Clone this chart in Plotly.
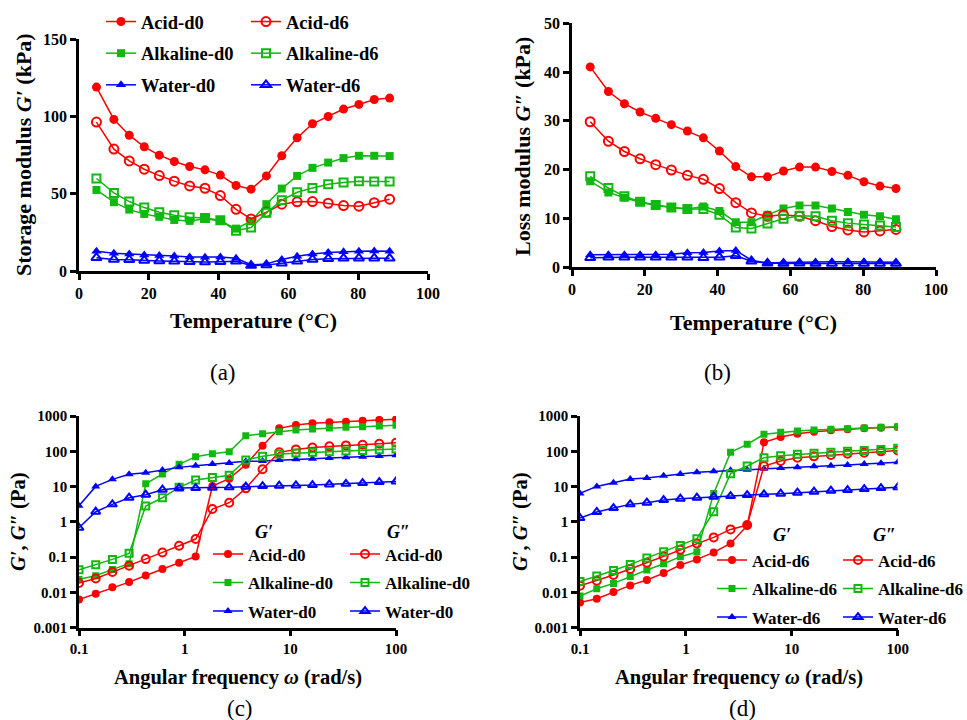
import plotly.graph_objects as go

W, H = 967, 720

# ---------------- data ----------------
temp = [5, 10, 14.4, 18.7, 23, 27.3, 31.7, 36.1, 40.5, 45, 49.3, 53.7, 58.1, 62.5, 66.9, 71.4, 75.8, 80.2, 84.6, 89]

acid_d0_G = [118.9, 98, 87.8, 80.3, 74.9, 70.8, 67.6, 65.4, 62, 55.3, 52.9, 61.5, 74.5, 86.1, 95.2, 99.9, 104.7, 107.7, 110.9, 111.8]
acid_d6_G = [96.3, 78.8, 71.2, 65.8, 61.7, 58.1, 55, 53.5, 48.8, 39.9, 33.7, 38, 43.2, 44.7, 44.9, 43.8, 42.3, 41.9, 44.2, 46.4]
alk_d0_G = [52.4, 44.5, 39.7, 36.9, 35, 33, 32.4, 33.7, 32.4, 27.4, 32.2, 43.2, 53.3, 61.5, 66.7, 70.1, 73, 74.5, 74.5, 74.3]
alk_d6_G = [59.8, 50.5, 44.9, 41, 38, 36, 34.8, 34.3, 32.8, 26.1, 28.1, 37.6, 45.8, 50.9, 53.7, 56.1, 57.2, 58.1, 57.8, 57.8]
water_d0_G = [12.7, 11.5, 11, 10.4, 10, 9.7, 9.1, 8.9, 9.1, 8.2, 4, 4.5, 7.5, 9.5, 11, 12, 12.5, 12.7, 13, 12.8]
water_d6_G = [8.6, 7.5, 7.3, 6.8, 6.5, 6.3, 6, 5.8, 6, 6.3, 3.5, 3.8, 5, 6.3, 7.5, 8, 8.2, 8.3, 8.3, 8.2]

acid_d0_L = [41.05, 36, 33.5, 31.8, 30.5, 29.2, 27.9, 26.5, 23.8, 20.6, 18.5, 18.5, 19.7, 20.5, 20.5, 19.6, 18.8, 17.5, 16.6, 16.1]
acid_d6_L = [29.8, 25.8, 23.7, 22.2, 21, 19.9, 18.8, 18, 16.1, 13.2, 11.1, 10.4, 10.7, 10.4, 9.5, 8.3, 7.6, 7.2, 7.4, 7.7]
alk_d0_L = [17.6, 15.3, 14.2, 13.3, 12.6, 12.2, 11.9, 12.4, 11.5, 9.2, 9.2, 10.7, 12, 12.6, 12.6, 12, 11.3, 10.7, 10.4, 9.8]
alk_d6_L = [18.6, 16.2, 14.5, 13.4, 12.7, 12.2, 11.9, 11.9, 10.7, 8.1, 7.9, 8.9, 9.9, 10.5, 10.4, 9.5, 9, 8.7, 8.5, 8.2]
water_d0_L = [2.5, 2.5, 2.5, 2.5, 2.5, 2.6, 2.9, 3, 3.3, 3.4, 1.4, 0.8, 0.9, 1, 1, 1.1, 1.1, 1.1, 1.1, 1]
water_d6_L = [1.9, 2, 2, 2, 2, 2, 2, 1.9, 2, 2.3, 1.2, 0.75, 0.7, 0.75, 0.7, 0.7, 0.7, 0.7, 0.7, 0.7]

freq = [0.1, 0.144, 0.207, 0.298, 0.428, 0.616, 0.886, 1.27, 1.83, 2.64, 3.79, 5.46, 7.85, 11.3, 16.2, 23.4, 33.6, 48.3, 69.5, 100]

acid_d0_Gp = [0.0063, 0.0092, 0.0139, 0.0196, 0.0303, 0.0459, 0.0694, 0.105, 10.4, 16.7, 41.7, 144, 447, 556, 619, 661, 690, 738, 771, 804]
acid_d0_Gpp = [0.0184, 0.0249, 0.0377, 0.057, 0.088, 0.136, 0.21, 0.325, 2.31, 3.49, 8.9, 30.8, 93.3, 113, 127, 138, 147, 154, 164, 175]
alk_d0_Gp = [0.0234, 0.0297, 0.0449, 0.065, 12, 22.6, 42.6, 70.4, 85.5, 97.5, 277, 315, 359, 401, 428, 457, 477, 499, 520, 543]
alk_d0_Gpp = [0.044, 0.061, 0.0863, 0.128, 2.81, 4.83, 9.49, 15.3, 18.2, 20.8, 56.5, 71.8, 83.6, 89.3, 93.3, 97.5, 102, 106, 111, 116]
water_d0_Gp = [2.86, 10.1, 16, 22.2, 24.7, 29.4, 35, 39, 43.5, 46.5, 51.8, 53, 56.5, 59, 61.7, 64.4, 67.3, 70.3, 73.4, 76.7]
water_d0_Gpp = [0.68, 1.94, 3.13, 4.83, 5.88, 8.14, 9.08, 9.08, 9.27, 9.49, 9.9, 10.3, 10.6, 10.8, 11, 11.5, 12, 12.6, 13.4, 14]

acid_d6_Gp = [0.0052, 0.0066, 0.0102, 0.0158, 0.0224, 0.0353, 0.0596, 0.0863, 0.136, 0.245, 0.776, 179, 254, 316, 359, 392, 419, 447, 467, 487]
acid_d6_Gpp = [0.0155, 0.0214, 0.031, 0.0459, 0.0694, 0.105, 0.162, 0.245, 0.363, 0.611, 0.811, 38.2, 53, 65.9, 71.8, 78.3, 85.5, 91.3, 99.6, 106]
alk_d6_Gp = [0.0079, 0.0127, 0.018, 0.0284, 0.043, 0.065, 0.103, 0.139, 6.4, 93.3, 157, 302, 344, 376, 401, 419, 437, 457, 477, 499]
alk_d6_Gpp = [0.0205, 0.029, 0.042, 0.0622, 0.0942, 0.142, 0.215, 0.333, 1.94, 23.2, 38.2, 65.9, 75, 81.8, 87.3, 93.3, 99.6, 106, 113, 121]
water_d6_Gp = [6.4, 10.1, 12.9, 16.4, 17.5, 20.3, 22.6, 25.3, 27, 28.8, 30, 32.1, 33.5, 35, 37.4, 39.1, 40.8, 43.5, 45.5, 48.6]
water_d6_Gpp = [1.28, 1.9, 2.46, 3.13, 3.49, 4.15, 4.53, 4.83, 5.16, 5.39, 5.75, 6.01, 6.28, 6.7, 7.15, 7.64, 7.98, 8.51, 9.08, 9.49]

lin_ticks_x = [0, 20, 40, 60, 80, 100]
storage_ticks = [0, 50, 100, 150]
loss_ticks = [0, 10, 20, 30, 40, 50]
log_x_ticks = [0.1, 1, 10, 100]
log_x_text = ["0.1", "1", "10", "100"]
log_y_ticks = [0.001, 0.01, 0.1, 1, 10, 100, 1000]
log_y_text = ["0.001", "0.01", "0.1", "1", "10", "100", "1000"]

# ---------------- style ----------------
RED = "#FF0000"
GREEN = "#10B810"
BLUE = "#0000FF"
FONT = "Liberation Serif"


def px(x):
    return x / W


def py(y):
    return 1 - y / H


fig = go.Figure()


def add(x, y, name, color, symbol, xa, ya, legend, size=9, group=None):
    open_ = symbol.endswith("-open")
    fig.add_trace(go.Scatter(
        x=x, y=y, name=name, mode="lines+markers",
        xaxis=xa, yaxis=ya, legend=legend,
        legendgroup=group or (legend + name),
        line=dict(color=color, width=1.5),
        marker=dict(symbol=symbol, size=size, color=color,
                    line=dict(width=2 if open_ else 0, color=color)),
    ))


# (a)
add(temp, acid_d0_G, "Acid-d0", RED, "circle", "x", "y", "legend")
add(temp, alk_d0_G, "Alkaline-d0", GREEN, "square", "x", "y", "legend", 8)
add(temp, water_d0_G, "Water-d0", BLUE, "triangle-up", "x", "y", "legend")
add(temp, acid_d6_G, "Acid-d6", RED, "circle-open", "x", "y", "legend2")
add(temp, alk_d6_G, "Alkaline-d6", GREEN, "square-open", "x", "y", "legend2", 8)
add(temp, water_d6_G, "Water-d6", BLUE, "triangle-up-open", "x", "y", "legend2")
# (b)
for yv, nm, col, sym, sz in [
    (acid_d0_L, "Acid-d0", RED, "circle", 9), (alk_d0_L, "Alkaline-d0", GREEN, "square", 8),
    (water_d0_L, "Water-d0", BLUE, "triangle-up", 9), (acid_d6_L, "Acid-d6", RED, "circle-open", 9),
    (alk_d6_L, "Alkaline-d6", GREEN, "square-open", 8), (water_d6_L, "Water-d6", BLUE, "triangle-up-open", 9)]:
    fig.add_trace(go.Scatter(
        x=temp, y=yv, name=nm, mode="lines+markers", xaxis="x2", yaxis="y2", showlegend=False,
        line=dict(color=col, width=1.5),
        marker=dict(symbol=sym, size=sz, color=col, line=dict(width=2 if sym.endswith("open") else 0, color=col))))
# (c)
add(freq, acid_d0_Gp, "Acid-d0", RED, "circle", "x3", "y3", "legend3", 8)
add(freq, alk_d0_Gp, "Alkaline-d0", GREEN, "square", "x3", "y3", "legend3", 7)
add(freq, water_d0_Gp, "Water-d0", BLUE, "triangle-up", "x3", "y3", "legend3", 8)
add(freq, acid_d0_Gpp, "Acid-d0", RED, "circle-open", "x3", "y3", "legend4", 8)
add(freq, alk_d0_Gpp, "Alkaline-d0", GREEN, "square-open", "x3", "y3", "legend4", 7)
add(freq, water_d0_Gpp, "Water-d0", BLUE, "triangle-up-open", "x3", "y3", "legend4", 8)
# (d)
add(freq, acid_d6_Gp, "Acid-d6", RED, "circle", "x4", "y4", "legend5", 8)
add(freq, alk_d6_Gp, "Alkaline-d6", GREEN, "square", "x4", "y4", "legend5", 7)
add(freq, water_d6_Gp, "Water-d6", BLUE, "triangle-up", "x4", "y4", "legend5", 8)
add(freq, acid_d6_Gpp, "Acid-d6", RED, "circle-open", "x4", "y4", "legend6", 8)
add(freq, alk_d6_Gpp, "Alkaline-d6", GREEN, "square-open", "x4", "y4", "legend6", 7)
add(freq, water_d6_Gpp, "Water-d6", BLUE, "triangle-up-open", "x4", "y4", "legend6", 8)


def axis(domain, anchor, tickfs, **kw):
    d = dict(domain=domain, anchor=anchor, showgrid=False, zeroline=False,
             showline=True, linecolor="black", linewidth=2.5,
             ticks="outside", ticklen=6, tickwidth=2.5, tickcolor="black",
             tickfont=dict(family=FONT, size=tickfs, color="black", weight="bold"),
             automargin=False, fixedrange=True)
    d.update(kw)
    return d


# pixel boxes of plot areas
A = (79, 428, 39, 271)
B = (572, 936, 23.3, 267)
C = (79, 396, 416, 627.7)
D = (580, 897.7, 416, 627.7)


def dom(box):
    x0, x1, y0, y1 = box
    return [px(x0), px(x1)], [py(y1), py(y0)]


ax, ay = dom(A)
bx, by = dom(B)
cx, cy = dom(C)
dx, dy = dom(D)

legfont = dict(family=FONT, size=18.5, color="black", weight="bold")
legfont2 = dict(family=FONT, size=17, color="black", weight="bold")


def leg(xpix, ytop, font, gap):
    return dict(x=px(xpix), y=py(ytop), xanchor="left", yanchor="top",
                orientation="v", bgcolor="rgba(0,0,0,0)", font=font,
                traceorder="grouped", tracegroupgap=gap, itemclick=False, itemdoubleclick=False)


fig.update_layout(
    width=W, height=H, margin=dict(l=0, r=0, t=0, b=0, pad=0, autoexpand=False),
    paper_bgcolor="white", plot_bgcolor="white",
    font=dict(family=FONT, color="black"),
    xaxis=axis(ax, "y", 16, range=[0, 100], tickvals=lin_ticks_x),
    yaxis=axis(ay, "x", 16, range=[0, 150], tickvals=storage_ticks),
    xaxis2=axis(bx, "y2", 16, range=[0, 100], tickvals=lin_ticks_x),
    yaxis2=axis(by, "x2", 16, range=[0, 50], tickvals=loss_ticks),
    xaxis3=axis(cx, "y3", 15, type="log", range=[-1, 2], tickvals=log_x_ticks, ticktext=log_x_text),
    yaxis3=axis(cy, "x3", 15, type="log", range=[-3, 3], tickvals=log_y_ticks, ticktext=log_y_text),
    xaxis4=axis(dx, "y4", 15, type="log", range=[-1, 2], tickvals=log_x_ticks, ticktext=log_x_text),
    yaxis4=axis(dy, "x4", 15, type="log", range=[-3, 3], tickvals=log_y_ticks, ticktext=log_y_text),
    legend=leg(101, 3, legfont, 4.6),
    legend2=leg(246, 3, legfont, 4.6),
    legend3=leg(208, 536.5, legfont2, 3.4),
    legend4=leg(345, 536.5, legfont2, 3.4),
    legend5=leg(712, 542.5, legfont2, 3.4),
    legend6=leg(838, 542.5, legfont2, 3.4),
    showlegend=True,
)

ann = []


def text(x, y, s, size, angle=0, xanchor="center"):
    ann.append(dict(x=px(x), y=py(y), xref="paper", yref="paper", text=s, showarrow=False,
                    xanchor=xanchor, yanchor="middle", textangle=angle,
                    font=dict(family=FONT, size=size, color="black")))


text(253, 320, "<b>Temperature (°C)</b>", 22)
text(23, 155, "<b>Storage modulus <i>G′</i> (kPa)</b>", 22, -90)
text(753, 322, "<b>Temperature (°C)</b>", 22)
text(523, 147, "<b>Loss modulus <i>G″</i> (kPa)</b>", 22, -90)
text(238, 677, "<b>Angular frequency <i>ω</i> (rad/s)</b>", 20.5)
text(18, 522, "<b><i>G′</i>, <i>G″</i> (Pa)</b>", 20.5, -90)
text(739, 677, "<b>Angular frequency <i>ω</i> (rad/s)</b>", 20.5)
text(520, 522, "<b><i>G′</i>, <i>G″</i> (Pa)</b>", 20.5, -90)
# legend headers
text(253, 532, "<b><i>G′</i></b>", 18, xanchor="left")
text(385, 532, "<b><i>G″</i></b>", 18, xanchor="left")
text(771, 535, "<b><i>G′</i></b>", 18, xanchor="left")
text(871, 535, "<b><i>G″</i></b>", 18, xanchor="left")
# panel labels
text(223, 372, "(a)", 23)
text(717, 372, "(b)", 23)
text(240, 708, "(c)", 23)
text(742, 708, "(d)", 23)

fig.update_layout(annotations=ann)
fig.write_html("out.html")
